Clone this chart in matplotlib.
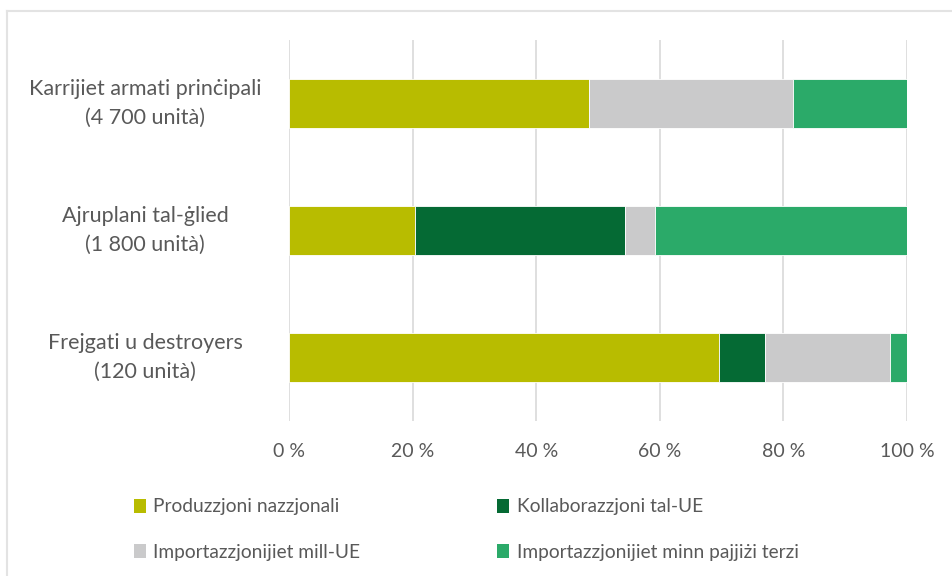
import matplotlib.pyplot as plt
import numpy as np
from matplotlib.ticker import FuncFormatter
from matplotlib.patches import Patch
from matplotlib.lines import Line2D

plt.rcParams['font.family'] = ['Lato', 'DejaVu Sans']

categories = ['Karrijiet armati prinċipali\n(4 700 unità)',
              'Ajruplani tal-ġlied\n(1 800 unità)',
              'Frejgati u destroyers\n(120 unità)']
series_names = ['Produzzjoni nazzjonali', 'Kollaborazzjoni tal-UE',
                'Importazzjonijiet mill-UE', 'Importazzjonijiet minn pajjiżi terzi']
national = [48.5, 20.4, 69.6]
eu_collab = [0.0, 34.0, 7.4]
eu_imports = [33.1, 4.8, 20.2]
third = [18.4, 40.8, 2.8]
colors = ['#B8BC00', '#056A34', '#CACACB', '#2BAA69']
ticks = [0, 20, 40, 60, 80, 100]

text_col = '#595959'
fig = plt.figure(figsize=(9.53, 5.76), dpi=100)
ax = fig.add_axes([289/953, 1-421/576, 618/953, 381/576])

y = np.arange(len(categories))
left = np.zeros(len(categories))
for vals, c, name in zip([national, eu_collab, eu_imports, third], colors, series_names):
    ax.barh(y, vals, left=left, height=0.38, color=c, edgecolor='white',
            linewidth=0.6, label=name, zorder=3)
    left += np.array(vals)

ax.set_ylim(2.5, -0.5)
ax.set_xlim(0, 100)
ax.set_yticks(y)
ax.set_yticklabels([])
ax.tick_params(axis='y', length=0)
for yi, cat in zip(y, categories):
    ax.text(-0.233, yi, cat, transform=ax.get_yaxis_transform(), ha='center',
            va='center', fontsize=15.5, color=text_col, linespacing=1.55)
ax.set_xticks(ticks)
ax.xaxis.set_major_formatter(FuncFormatter(lambda v, p: f'{int(v)} %'))
ax.tick_params(axis='x', length=0, labelsize=14, labelcolor=text_col, pad=16)
ax.grid(axis='x', color='#D9D9D9', linewidth=1.2, zorder=0)
for s in ax.spines.values():
    s.set_visible(False)

# legend filled row by row like the original
order = [0, 2, 1, 3]
handles = [Patch(facecolor=colors[i], edgecolor='none') for i in order]
labels = [series_names[i] for i in order]
leg = fig.legend(handles, labels,
                 ncol=2, loc='upper left', bbox_to_anchor=(117/953, 1-481/576),
                 frameon=False, fontsize=13.8, handlelength=0.6, handleheight=0.75,
                 handletextpad=0.4, columnspacing=7.15, labelspacing=1.5)
for t in leg.get_texts():
    t.set_color(text_col)

# outer frame (top and left only)
fig.add_artist(Line2D([7/953, 1], [1-11/576, 1-11/576], color='#E3E3E3', lw=1.5,
                      transform=fig.transFigure))
fig.add_artist(Line2D([7/953, 7/953], [0, 1-11/576], color='#E3E3E3', lw=1.5,
                      transform=fig.transFigure))

fig.savefig('out.png', dpi=100)
